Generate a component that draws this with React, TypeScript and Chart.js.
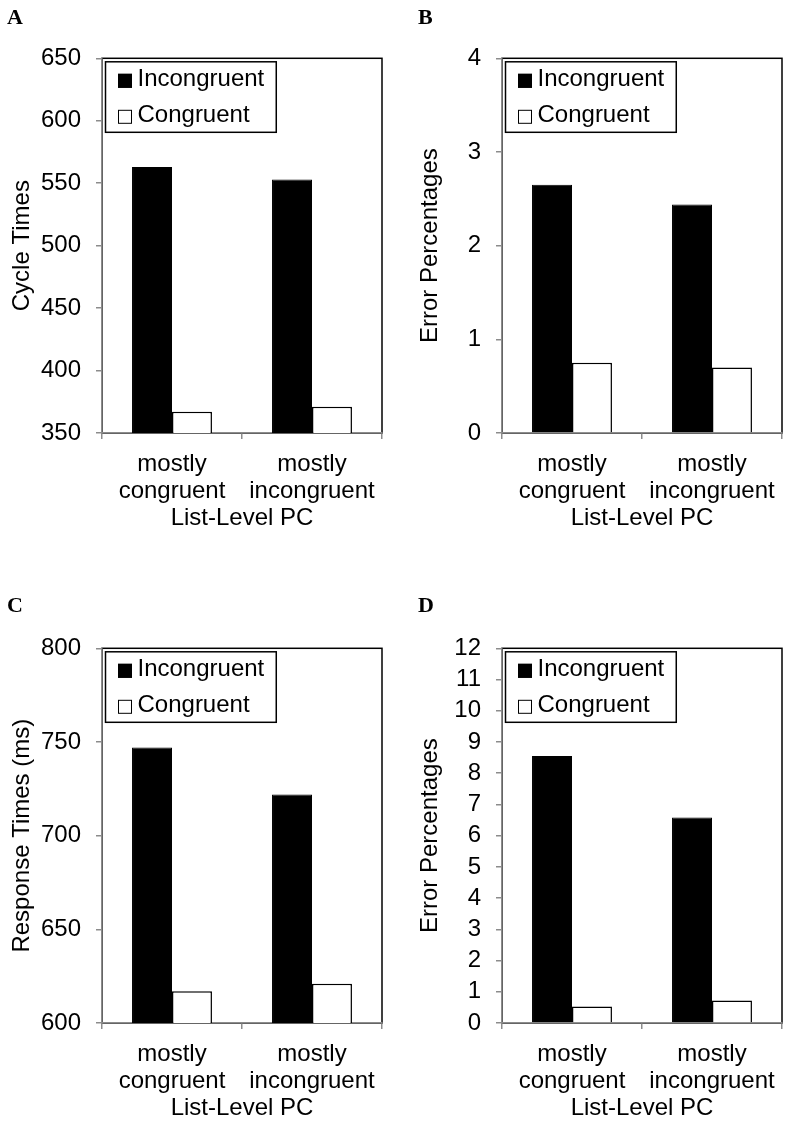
import React, { useEffect, useRef } from 'react';
import { Chart, registerables } from 'chart.js';

Chart.register(...registerables);

// ---------- data ----------
const categories = [['mostly', 'congruent'], ['mostly', 'incongruent']];
const seriesNames = ['Incongruent', 'Congruent'];
const xAxisTitle = 'List-Level PC';

const cycleIncongruent = [563, 553];
const cycleCongruent = [367, 371];

const errorBIncongruent = [2.65, 2.44];
const errorBCongruent = [0.75, 0.7];

const responseIncongruent = [747, 722];
const responseCongruent = [617, 621];

const errorDIncongruent = [8.55, 6.58];
const errorDCongruent = [0.53, 0.72];

const panelLetters = ['A', 'B', 'C', 'D'];
const yTitles = ['Cycle Times', 'Error Percentages', 'Response Times (ms)', 'Error Percentages'];
const yMins = [350, 0, 600, 0];
const yMaxs = [650, 4, 800, 12];
const ySteps = [50, 1, 50, 1];

// ---------- styling ----------
const FONT = '"Liberation Sans", Arial, sans-serif';
const GRAY = '#8c8c8c';

const framePlugin = {
  id: 'frame',
  beforeDraw(chart: any) {
    const { ctx, chartArea } = chart;
    ctx.save();
    ctx.strokeStyle = '#000';
    ctx.lineWidth = 1.5;
    ctx.strokeRect(chartArea.left, chartArea.top, chartArea.right - chartArea.left, chartArea.bottom - chartArea.top);
    ctx.restore();
  },
};

const boxLegendPlugin = {
  id: 'boxLegend',
  afterDatasetsDraw(chart: any) {
    const { ctx, chartArea } = chart;
    const ds = chart.data.datasets;
    ctx.save();
    ctx.font = `24px ${FONT}`;
    const textX = chartArea.left + 35.5;
    const maxW = Math.max(...ds.map((d: any) => ctx.measureText(d.label).width));
    const bx = chartArea.left + 3.5;
    const by = chartArea.top + 3.5;
    const bw = textX + maxW + 12 - bx;
    const bh = 70.5;
    ctx.fillStyle = '#fff';
    ctx.fillRect(bx, by, bw, bh);
    ctx.lineWidth = 1.5;
    ctx.strokeStyle = '#000';
    ctx.strokeRect(bx, by, bw, bh);
    ds.forEach((d: any, i: number) => {
      const cy = chartArea.top + 22.5 + i * 36;
      ctx.fillStyle = d.backgroundColor;
      ctx.fillRect(chartArea.left + 16, cy - 7, 14, 14);
      ctx.lineWidth = 1;
      ctx.strokeStyle = '#000';
      ctx.strokeRect(chartArea.left + 16.5, cy - 6.5, 13, 13);
      ctx.fillStyle = '#000';
      ctx.textBaseline = 'middle';
      ctx.textAlign = 'left';
      ctx.fillText(d.label, textX, cy - 1.8);
    });
    ctx.restore();
  },
};

type PanelProps = {
  index: number;
  inc: number[];
  con: number[];
  left: number;
  top: number;
  width: number;
  height: number;
  padRight: number;
  yTitlePad: number;
  letterTop: number;
};

function Panel(p: PanelProps) {
  const ref = useRef<HTMLCanvasElement | null>(null);
  useEffect(() => {
    if (!ref.current) return;
    const chart = new Chart(ref.current, {
      type: 'bar',
      data: {
        labels: categories,
        datasets: [
          {
            label: seriesNames[0],
            data: p.inc,
            backgroundColor: '#000',
            borderColor: '#000',
            borderWidth: 1,
            barPercentage: 1,
            categoryPercentage: 0.571,
          },
          {
            label: seriesNames[1],
            data: p.con,
            backgroundColor: '#fff',
            borderColor: '#000',
            borderWidth: 1.5,
            barPercentage: 1,
            categoryPercentage: 0.571,
          },
        ],
      },
      options: {
        animation: false,
        responsive: false,
        devicePixelRatio: 1,
        layout: { padding: { left: 0, top: 58.3, right: p.padRight, bottom: 10 } },
        plugins: { legend: { display: false }, tooltip: { enabled: false } },
        scales: {
          x: {
            grid: {
              display: true,
              drawOnChartArea: false,
              drawTicks: true,
              tickLength: 6,
              color: GRAY,
              lineWidth: 1.5,
              offset: true,
            },
            border: { display: true, color: GRAY, width: 1.5 },
            ticks: {
              color: '#000',
              font: { family: FONT, size: 24, lineHeight: 1.125 },
              padding: 12,
              maxRotation: 0,
              autoSkip: false,
            },
            title: {
              display: true,
              text: xAxisTitle,
              color: '#000',
              font: { family: FONT, size: 24, lineHeight: 1.125 },
              padding: { top: 0, bottom: 0 },
            },
            afterFit: (s: any) => {
              s.height = 99;
            },
          },
          y: {
            min: yMins[p.index],
            max: yMaxs[p.index],
            ticks: {
              stepSize: ySteps[p.index],
              color: '#000',
              font: { family: FONT, size: 24 },
              padding: 15,
              autoSkip: false,
            },
            grid: {
              drawOnChartArea: false,
              drawTicks: true,
              tickLength: 6,
              color: GRAY,
              lineWidth: 1.5,
            },
            border: { display: true, color: GRAY, width: 1.5 },
            title: {
              display: true,
              text: yTitles[p.index],
              color: '#000',
              font: { family: FONT, size: 24, lineHeight: 1.2 },
              padding: { top: p.yTitlePad, bottom: 0 },
            },
            afterFit: (s: any) => {
              s.width = 102;
            },
          },
        },
      },
      plugins: [framePlugin, boxLegendPlugin],
    } as any);
    return () => chart.destroy();
  }, []);

  return (
    <div style={{ position: 'absolute', left: p.left, top: p.top, width: p.width, height: p.height }}>
      <canvas ref={ref} width={p.width} height={p.height} style={{ display: 'block' }} />
      <div
        style={{
          position: 'absolute',
          left: p.index % 2 === 0 ? 7 : 18,
          top: p.letterTop,
          font: 'bold 22px "Liberation Serif", "Times New Roman", serif',
          lineHeight: '22px',
          color: '#000',
        }}
      >
        {panelLetters[p.index]}
      </div>
    </div>
  );
}

export default function App() {
  return (
    <div style={{ position: 'absolute', left: 0, top: 0, width: 790, height: 1132, background: '#fff' }}>
      <Panel index={0} inc={cycleIncongruent} con={cycleCongruent} left={0} top={0} width={395} height={542} padRight={13} yTitlePad={8} letterTop={5.6} />
      <Panel index={1} inc={errorBIncongruent} con={errorBCongruent} left={400} top={0} width={390} height={542} padRight={8} yTitlePad={16} letterTop={5.6} />
      <Panel index={2} inc={responseIncongruent} con={responseCongruent} left={0} top={590} width={395} height={542} padRight={13} yTitlePad={8} letterTop={4.1} />
      <Panel index={3} inc={errorDIncongruent} con={errorDCongruent} left={400} top={590} width={390} height={542} padRight={8} yTitlePad={16} letterTop={4.1} />
    </div>
  );
}
